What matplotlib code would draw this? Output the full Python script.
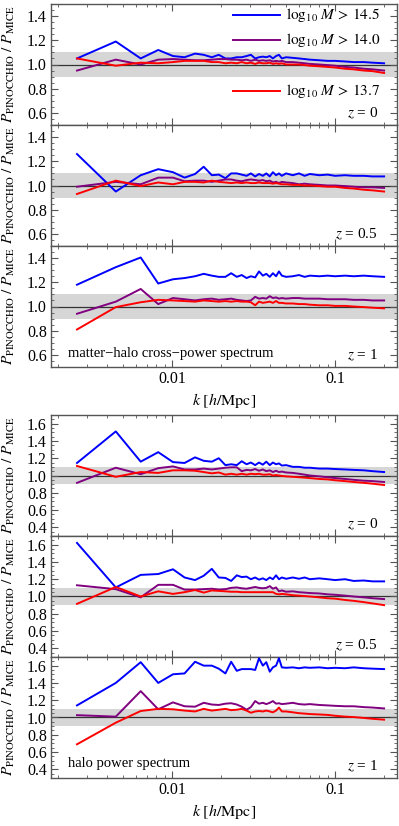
import matplotlib
matplotlib.use('Agg')
import matplotlib.pyplot as plt
from matplotlib.ticker import FixedLocator, LogLocator, MultipleLocator, NullFormatter

plt.rcParams['font.family'] = ['Liberation Serif', 'DejaVu Serif']
plt.rcParams['mathtext.fontset'] = 'stix'

# k bins [h/Mpc]
k = [0.0026, 0.0045, 0.0064, 0.0082, 0.0101, 0.0119, 0.0138, 0.0156, 0.0175, 0.0193,
     0.0212, 0.0230, 0.0249, 0.0267, 0.0286, 0.0304, 0.0323, 0.0341, 0.0360, 0.0378,
     0.0397, 0.0415, 0.0434, 0.0452, 0.0471, 0.050, 0.055, 0.060, 0.065, 0.070,
     0.080, 0.090, 0.100, 0.115, 0.130, 0.150, 0.170, 0.200]

# matter-halo cross-power ratios
cross_z0_145 = [1.05, 1.19, 1.05, 1.12, 1.07, 1.06, 1.09, 1.08, 1.06, 1.08,
                1.05, 1.05, 1.06, 1.06, 1.07, 1.08, 1.05, 1.06, 1.065, 1.06,
                1.07, 1.05, 1.07, 1.08, 1.05, 1.06, 1.055, 1.05, 1.045, 1.04,
                1.035, 1.03, 1.03, 1.025, 1.02, 1.02, 1.015, 1.01]
cross_z0_140 = [0.95, 1.04, 1.00, 1.04, 1.045, 1.04, 1.035, 1.035, 1.04, 1.045,
                1.045, 1.04, 1.04, 1.035, 1.04, 1.03, 1.04, 1.03, 1.035, 1.03,
                1.035, 1.025, 1.03, 1.025, 1.03, 1.02, 1.02, 1.015, 1.01, 1.005,
                1.0, 0.995, 0.99, 0.98, 0.975, 0.965, 0.96, 0.95]
cross_z0_137 = [1.05, 0.99, 1.015, 1.01, 1.02, 1.03, 1.03, 1.03, 1.02, 1.02,
                1.01, 1.015, 1.01, 1.02, 1.01, 1.015, 1.005, 1.015, 1.01, 1.01,
                1.015, 1.005, 1.01, 1.005, 1.01, 1.0, 1.0, 1.0, 0.995, 0.99,
                0.985, 0.98, 0.975, 0.965, 0.96, 0.95, 0.945, 0.93]

cross_z05_145 = [1.26, 0.95, 1.085, 1.135, 1.11, 1.065, 1.095, 1.155, 1.085, 1.09,
                 1.06, 1.10, 1.10, 1.09, 1.08, 1.10, 1.075, 1.095, 1.08, 1.10,
                 1.075, 1.11, 1.085, 1.10, 1.08, 1.10, 1.085, 1.10, 1.08, 1.095,
                 1.085, 1.09, 1.08, 1.085, 1.08, 1.08, 1.075, 1.075]
cross_z05_140 = [0.99, 1.03, 1.01, 1.065, 1.065, 1.035, 1.04, 1.04, 1.03, 1.04,
                 1.05, 1.05, 1.04, 1.035, 1.045, 1.05, 1.045, 1.04, 1.045, 1.035,
                 1.04, 1.025, 1.03, 1.02, 1.03, 1.025, 1.02, 1.01, 1.015, 1.01,
                 1.005, 1.0, 1.0, 0.995, 0.99, 0.985, 0.985, 0.98]
cross_z05_137 = [0.93, 1.04, 0.995, 1.025, 1.01, 1.03, 1.03, 1.025, 1.04, 1.03,
                 1.025, 1.02, 1.025, 1.02, 1.025, 1.02, 1.02, 1.025, 1.02, 1.02,
                 1.02, 1.015, 1.02, 1.015, 1.01, 1.01, 1.005, 1.005, 1.0, 1.0,
                 0.995, 0.99, 0.99, 0.98, 0.975, 0.965, 0.96, 0.95]

cross_z1_145 = [1.18, 1.325, 1.405, 1.19, 1.225, 1.235, 1.25, 1.27, 1.255, 1.245,
                1.245, 1.275, 1.245, 1.26, 1.235, 1.25, 1.24, 1.29, 1.255, 1.27,
                1.245, 1.275, 1.25, 1.29, 1.255, 1.245, 1.25, 1.26, 1.245, 1.255,
                1.25, 1.255, 1.25, 1.255, 1.25, 1.255, 1.25, 1.245]
cross_z1_140 = [0.94, 1.04, 1.145, 1.02, 1.07, 1.06, 1.05, 1.06, 1.065, 1.055,
                1.06, 1.065, 1.055, 1.05, 1.045, 1.05, 1.08, 1.065, 1.07, 1.065,
                1.085, 1.07, 1.075, 1.065, 1.07, 1.065, 1.07, 1.07, 1.065, 1.065,
                1.065, 1.06, 1.06, 1.06, 1.055, 1.055, 1.05, 1.05]
cross_z1_137 = [0.81, 0.995, 1.035, 1.055, 1.05, 1.045, 1.04, 1.05, 1.045, 1.04,
                1.045, 1.04, 1.045, 1.04, 1.04, 1.035, 1.01, 1.04, 1.03, 1.035,
                1.04, 1.03, 1.045, 1.03, 1.03, 1.025, 1.025, 1.02, 1.02, 1.015,
                1.01, 1.01, 1.005, 1.005, 1.0, 0.995, 0.99, 0.985]

# halo power ratios
halo_z0_145 = [1.145, 1.51, 1.16, 1.27, 1.155, 1.145, 1.21, 1.17, 1.16, 1.20,
               1.12, 1.13, 1.12, 1.165, 1.13, 1.15, 1.12, 1.15, 1.125, 1.16,
               1.12, 1.15, 1.13, 1.14, 1.115, 1.12, 1.10, 1.10, 1.09, 1.09,
               1.08, 1.08, 1.075, 1.07, 1.065, 1.06, 1.05, 1.04]
halo_z0_140 = [0.915, 1.09, 1.015, 1.085, 1.105, 1.07, 1.07, 1.08, 1.07, 1.08,
               1.09, 1.095, 1.095, 1.05, 1.065, 1.06, 1.075, 1.055, 1.07, 1.05,
               1.06, 1.04, 1.055, 1.04, 1.045, 1.035, 1.03, 1.02, 1.01, 1.0,
               0.99, 0.98, 0.97, 0.96, 0.95, 0.94, 0.935, 0.925]
halo_z0_137 = [1.11, 0.985, 1.04, 1.03, 1.06, 1.06, 1.055, 1.04, 1.025, 1.035,
               1.01, 1.02, 1.01, 1.02, 1.01, 1.02, 1.015, 1.02, 1.01, 1.01,
               1.015, 1.0, 1.005, 1.0, 0.995, 0.99, 0.985, 0.98, 0.975, 0.97,
               0.96, 0.955, 0.945, 0.935, 0.925, 0.915, 0.905, 0.89]

halo_z05_145 = [1.62, 1.105, 1.25, 1.26, 1.315, 1.22, 1.19, 1.24, 1.32, 1.22,
                1.215, 1.18, 1.245, 1.225, 1.23, 1.20, 1.22, 1.195, 1.21, 1.19,
                1.22, 1.20, 1.245, 1.20, 1.22, 1.205, 1.22, 1.205, 1.22, 1.20,
                1.21, 1.20, 1.19, 1.20, 1.18, 1.185, 1.175, 1.175]
halo_z05_140 = [1.13, 1.085, 0.99, 1.135, 1.135, 1.08, 1.08, 1.085, 1.09, 1.08,
                1.085, 1.10, 1.105, 1.095, 1.09, 1.10, 1.11, 1.10, 1.095, 1.10,
                1.12, 1.09, 1.105, 1.06, 1.07, 1.055, 1.06, 1.05, 1.045, 1.04,
                1.035, 1.025, 1.02, 1.01, 1.0, 0.99, 0.98, 0.97]
halo_z05_137 = [0.915, 1.11, 1.0, 1.06, 1.03, 1.05, 1.075, 1.045, 1.07, 1.065,
                1.06, 1.055, 1.055, 1.05, 1.05, 1.05, 1.05, 1.05, 1.05, 1.05,
                1.05, 1.05, 1.03, 1.025, 1.03, 1.025, 1.015, 1.01, 1.005, 1.0,
                0.99, 0.98, 0.975, 0.96, 0.95, 0.935, 0.92, 0.90]

halo_z1_145 = [1.14, 1.40, 1.64, 1.40, 1.50, 1.51, 1.645, 1.60, 1.60, 1.565,
               1.51, 1.645, 1.54, 1.56, 1.56, 1.56, 1.55, 1.685, 1.60, 1.64,
               1.53, 1.58, 1.60, 1.685, 1.58, 1.575, 1.58, 1.57, 1.58, 1.575,
               1.58, 1.57, 1.575, 1.57, 1.58, 1.57, 1.565, 1.56]
halo_z1_140 = [1.027, 1.01, 1.305, 1.095, 1.175, 1.13, 1.125, 1.17, 1.15, 1.145,
               1.16, 1.165, 1.15, 1.125, 1.09, 1.12, 1.19, 1.16, 1.17, 1.155,
               1.17, 1.19, 1.16, 1.165, 1.155, 1.16, 1.17, 1.155, 1.15, 1.155,
               1.145, 1.14, 1.135, 1.13, 1.13, 1.12, 1.115, 1.105]
halo_z1_137 = [0.69, 0.94, 1.075, 1.10, 1.095, 1.08, 1.07, 1.10, 1.08, 1.09,
               1.10, 1.085, 1.09, 1.10, 1.08, 1.055, 1.07, 1.075, 1.07, 1.08,
               1.07, 1.06, 1.08, 1.115, 1.07, 1.07, 1.06, 1.05, 1.045, 1.04,
               1.035, 1.03, 1.02, 1.01, 1.005, 0.995, 0.985, 0.975]

mass_labels = [r'$\log_{10}\,M\,>\,14.5$', r'$\log_{10}\,M\,>\,14.0$', r'$\log_{10}\,M\,>\,13.7$']
colors = ['#0000ff', '#800080', '#ff0000']
z_labels = ['$z$ = 0', '$z$ = 0.5', '$z$ = 1']

panels = [
    [cross_z0_145, cross_z0_140, cross_z0_137],
    [cross_z05_145, cross_z05_140, cross_z05_137],
    [cross_z1_145, cross_z1_140, cross_z1_137],
    [halo_z0_145, halo_z0_140, halo_z0_137],
    [halo_z05_145, halo_z05_140, halo_z05_137],
    [halo_z1_145, halo_z1_140, halo_z1_137],
]

W, H = 399, 826
fig = plt.figure(figsize=(W / 100, H / 100), dpi=100)

left, right = 51, 397
tops = [4, 125, 246, 415, 536, 657]
ph = 121
frame_col = '#555555'

axes = []
for i, series in enumerate(panels):
    ax = fig.add_axes([left / W, 1 - (tops[i] + ph) / H, (right - left) / W, ph / H])
    axes.append(ax)

    # +-10% band and unity line
    ax.axhspan(0.9, 1.1, color='#d6d6d6', lw=0, zorder=0)
    ax.axhline(1.0, color='#333333', lw=0.9, zorder=1)

    for s, c in zip(series, colors):
        ax.plot(k, s, color=c, lw=1.4, zorder=3)

    ax.set_xscale('log')
    ax.set_xlim(0.0018, 0.24)
    if i < 3:
        ax.set_ylim(0.5, 1.5)
        ax.yaxis.set_major_locator(FixedLocator([0.6, 0.8, 1.0, 1.2, 1.4]))
    else:
        ax.set_ylim(0.3, 1.7)
        ax.yaxis.set_major_locator(FixedLocator([0.4, 0.6, 0.8, 1.0, 1.2, 1.4, 1.6]))
    ax.yaxis.set_minor_locator(MultipleLocator(0.05))
    ax.yaxis.set_major_formatter(plt.FuncFormatter(lambda v, p: f'{v:.1f}'))

    ax.xaxis.set_major_locator(FixedLocator([0.01, 0.1]))
    ax.xaxis.set_minor_locator(LogLocator(base=10, subs=range(2, 10)))
    ax.xaxis.set_minor_formatter(NullFormatter())
    if i in (2, 5):
        ax.set_xticklabels(['0.01', '0.1'])
        ax.set_xlabel(r'$k\ [h/\mathrm{Mpc}]$', fontsize=11.5, labelpad=3)
    else:
        ax.set_xticklabels([])

    ax.tick_params(which='both', direction='in', top=True, right=True,
                   color=frame_col, labelsize=11.5, pad=3)
    ax.tick_params(which='major', length=5, width=0.8)
    ax.tick_params(which='minor', length=2.5, width=0.6)
    for sp in ax.spines.values():
        sp.set_color(frame_col)
        sp.set_linewidth(1.0)

    ax.set_ylabel(r'$P_{\mathrm{PINOCCHIO}}\ /\ P_{\mathrm{MICE}}$', fontsize=11)
    ax.yaxis.set_label_coords(-0.098, 0.5)

    ax.text(0.945, 0.10, z_labels[i % 3], transform=ax.transAxes, fontsize=11,
            ha='right', va='center')

axes[2].text(0.05, 0.115, 'matter\u2212halo cross\u2212power spectrum',
             transform=axes[2].transAxes, fontsize=10.5, ha='left', va='center')
axes[5].text(0.05, 0.12, 'halo power spectrum',
             transform=axes[5].transAxes, fontsize=10.5, ha='left', va='center')

# legend drawn by hand in the first panel (uneven spacing as in the original)
leg_y = [0.905, 0.70, 0.28]
for lab, c, yy in zip(mass_labels, colors, leg_y):
    axes[0].plot([0.526, 0.662], [yy, yy], color=c, lw=1.4, transform=axes[0].transAxes)
    axes[0].text(0.68, yy, lab, transform=axes[0].transAxes, fontsize=11,
                 ha='left', va='center')

plt.savefig('out.png', dpi=100)
